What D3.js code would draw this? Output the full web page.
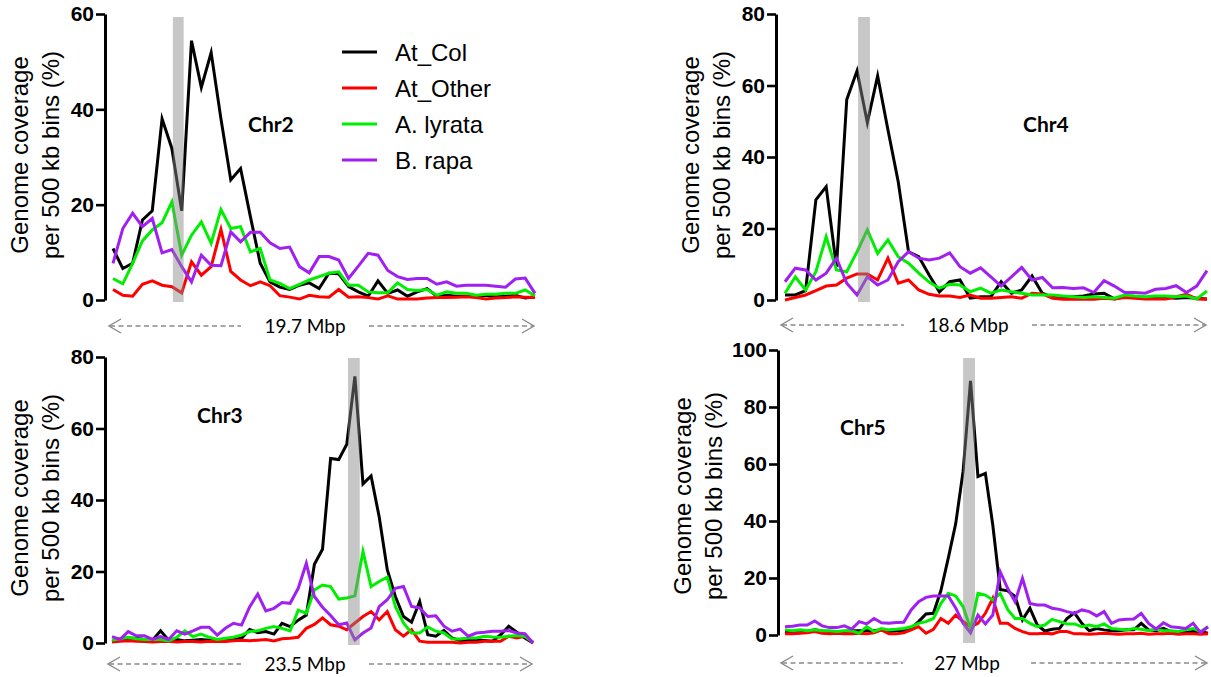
<!DOCTYPE html>
<html>
<head>
<meta charset="utf-8">
<script src="https://cdn.jsdelivr.net/npm/d3@7"></script>
<style>
  html, body { margin: 0; padding: 0; background: #fff; }
  svg { display: block; }
</style>
</head>
<body>
<svg id="chart" width="1211" height="677"></svg>
<script>
// ---- Series and labels ----
const seriesNames = ["At_Col", "At_Other", "A. lyrata", "B. rapa"];
const chrNames = ["Chr2", "Chr4", "Chr3", "Chr5"];
const chrLengths = ["19.7 Mbp", "18.6 Mbp", "23.5 Mbp", "27 Mbp"];

// y-axis ticks per chromosome
const chr2Ticks = [0, 20, 40, 60];
const chr4Ticks = [0, 20, 40, 60, 80];
const chr3Ticks = [0, 20, 40, 60, 80];
const chr5Ticks = [0, 20, 40, 60, 80, 100];

// centromere span, in 500 kb bin units
const chr2Centromere = [6.1, 7.2];
const chr4Centromere = [7.1, 8.25];
const chr3Centromere = [29.15, 30.6];
const chr5Centromere = [24.0, 25.6];

// Genome coverage (%) per 500 kb bin
const chr2AtCol = [10.8, 6.6, 7.7, 16.8, 18.7, 38, 31.8, 18.7, 54.4, 44.6, 51.9, 38, 25.2, 27.6, 17.5, 7.7, 3.8, 2.7, 2.2, 3.1, 3.6, 2.4, 5.6, 5.5, 2.8, 1.7, 0.8, 4, 1.4, 2.1, 0.8, 1.7, 2.4, 0.8, 1, 0.8, 0.8, 0.7, 1, 0.7, 0.8, 1, 0.4, 0.7];
const chr2AtOther = [2.2, 1, 0.8, 3.3, 4, 3.1, 2.8, 1.5, 8, 5.2, 7, 14.8, 6, 4.2, 3, 3.8, 3, 0.9, 0.6, 0.2, 1, 0.7, 0.6, 2.2, 0.6, 0.7, 0.5, 0.2, 0.9, 0.2, 0.2, 0.2, 0.4, 0.5, 0.5, 0.6, 0.7, 0.5, 0.2, 0.4, 0.5, 0.7, 0.6, 0.5];
const chr2Lyrata = [4.5, 3.4, 7.7, 12.4, 14.7, 16.2, 20.6, 9.4, 13.6, 16.4, 11.9, 19, 15, 15.4, 10.1, 10.8, 4.2, 3.5, 2.4, 3.3, 4.2, 4.9, 5.6, 5.9, 3.1, 3.1, 1.7, 1.5, 1.5, 3.6, 2.2, 2, 2.2, 1, 1.7, 1.4, 1.4, 1, 1.2, 1.2, 1.4, 1.4, 2.1, 0.9];
const chr2Rapa = [7.7, 15, 18.2, 15.4, 17.1, 9.9, 10.6, 7, 3.8, 9.4, 7.3, 7.2, 14.3, 12.2, 14.2, 14.2, 12, 10.8, 11.1, 7, 5.7, 9.1, 9.1, 8.4, 4.5, 7.1, 9.8, 9.4, 6.2, 4.9, 4.3, 4.5, 4.5, 3.3, 3.8, 2.9, 3.1, 3.1, 3.1, 2.9, 2.7, 4.4, 4.6, 1.4];

const chr4AtCol = [1.4, 1.4, 2.6, 28, 31.7, 9.3, 56.1, 64.1, 49.6, 62.7, 47.6, 33.1, 13.5, 12.1, 7, 2.3, 5.1, 5.6, 0.5, 0.9, 0.9, 5.1, 1.9, 2.8, 6.7, 1.9, 0.7, 0.7, 0.9, 1.1, 1.7, 1.9, 0.3, 0.9, 0.7, 0.5, 0.7, 0.7, 0.5, 0.7, 0.5, 0.3];
const chr4AtOther = [0, 0.7, 1.4, 2.6, 3.9, 4.2, 6.1, 7.3, 7.3, 5.6, 11.7, 4.7, 5.6, 2.8, 1.6, 1.1, 1.1, 0.7, 1.4, 0.5, 0.5, 0.7, 0.9, 0.5, 1.9, 1.7, 0.5, 0.2, 0.2, 0.2, 0.2, 0.5, 0.3, 0.7, 0.5, 0.3, 0.3, 0.3, 0.9, 1.6, 0.3, 0.2];
const chr4Lyrata = [1.9, 6.5, 2.8, 7.9, 17.7, 8.4, 7.9, 13.5, 19.6, 13, 16.8, 12.1, 10.3, 7.5, 5, 3.3, 4.4, 4.2, 2.3, 3.3, 1.9, 2.8, 2.3, 1.9, 1.4, 1.4, 1.4, 1.1, 0.9, 0.7, 0.9, 0.7, 0.5, 1.4, 1.1, 0.9, 1.1, 1.1, 0.9, 1.1, 0.3, 2.5];
const chr4Rapa = [5.1, 8.9, 8.4, 5.6, 7.5, 11.7, 4.7, 1.4, 6.5, 4.2, 5.6, 10.7, 13.5, 11.7, 11.2, 11.7, 13.2, 9.3, 7.5, 9, 6.5, 3.9, 6.5, 9.1, 5.6, 6.3, 3.4, 3.5, 3.2, 3.4, 2.1, 5.4, 3.9, 2.1, 2.1, 1.9, 3, 3.2, 4, 2.1, 3.9, 8.2];

const chr3AtCol = [0.4, 0.8, 1.3, 1.3, 1, 0.8, 3.4, 0.8, 1, 0.6, 0.8, 1, 0.8, 0.8, 0.6, 1, 1.3, 3.8, 2.9, 3.2, 2.5, 5.5, 4.6, 6.4, 7.8, 22, 26.2, 51.6, 51.3, 55.6, 74.6, 44.5, 46.7, 35.3, 20.5, 13, 7.4, 5.8, 11.6, 2.3, 1.9, 3.5, 1.4, 0.7, 0.7, 0.9, 0.7, 0.5, 2.3, 4.7, 3, 1.4, 0];
const chr3AtOther = [0.3, 0.5, 0.6, 0.5, 0.4, 0.3, 0.4, 0.5, 0.3, 0.4, 0.4, 0.3, 0.5, 0.4, 0.4, 0.6, 0.8, 0.6, 0.8, 1, 0.6, 1.2, 1.3, 1.6, 4.1, 5.2, 7, 5.1, 4.7, 3.7, 5.6, 7.4, 8.8, 6.5, 8.8, 3.7, 1.9, 3.7, 0.5, 0.2, 0.2, 0.2, 0.2, 0, 0.2, 0.2, 0.5, 0.5, 0.5, 1.9, 1.4, 1.9, 0.2];
const chr3Lyrata = [0.8, 1.2, 1.6, 1.2, 1, 1, 1, 0.6, 1.6, 3.4, 1.8, 2.5, 1.6, 1, 1.3, 1.6, 2.2, 3.2, 3.4, 4.1, 4.6, 4.1, 3.4, 9.2, 8.3, 14.8, 16.2, 15.8, 12.3, 12.6, 13.2, 25.6, 15.8, 17.2, 18.4, 10.2, 5.6, 2.8, 2.8, 4.5, 3.3, 2.8, 1.1, 1.1, 1.4, 1.4, 1.9, 1.7, 1.6, 1.9, 2.1, 1.9, 0.2];
const chr3Rapa = [1.8, 1, 3.2, 2, 2, 1, 1.8, 1, 3.4, 2.5, 3.4, 4.4, 4.4, 2.2, 4.1, 5.5, 5, 10.1, 13.7, 9, 9.7, 11.3, 11.1, 15.3, 22.3, 13, 10, 7.7, 5.1, 5.6, 0.9, 2.8, 4.2, 10.2, 12.1, 15.3, 15.8, 10.2, 9.8, 7.4, 7.6, 4.7, 3.3, 3.9, 1.9, 2.8, 3, 3.3, 3.3, 3.5, 2.8, 2.6, 0];

const chr5AtCol = [1.2, 0.8, 0.8, 1.2, 1.8, 1.4, 1.2, 1.2, 1.2, 1.5, 1.5, 1.5, 1.5, 1.8, 1.2, 1.5, 1.5, 2.3, 4.7, 7.4, 7.6, 15.5, 27, 39, 57.5, 89.2, 55.6, 56.7, 38.6, 16, 15.5, 13.5, 5.3, 9.4, 3.5, 1.4, 2, 2.3, 5.8, 7.8, 4.1, 1.5, 2.3, 1.8, 1.5, 1.5, 1.8, 1.8, 4.1, 1.8, 1.5, 2.3, 1.2, 1.2, 0.9, 1.2, 1.2, 0.6];
const chr5AtOther = [0.4, 0.4, 0.6, 0.8, 1.2, 0.6, 0.4, 0.6, 0.4, 0.4, 0.6, 0.4, 0.8, 1.8, 0.4, 0.4, 0.8, 1.8, 2.9, 0.6, 2, 5.8, 4.1, 7, 4.7, 2.9, 4.1, 7.6, 12.9, 4.1, 4.1, 2.3, 1.2, 0.4, 0.4, 0.6, 0.4, 1.2, 1.2, 0.4, 0.4, 0.3, 0.4, 0.6, 0.4, 0.3, 0.4, 0.4, 0.6, 0.3, 0.4, 0.4, 0.6, 0.3, 0.4, 0.4, 0.3, 0.4];
const chr5Lyrata = [1.8, 1.5, 1.8, 1.5, 1.8, 1.5, 1.5, 1.2, 1.5, 1.5, 0.6, 2.9, 1.2, 2.3, 1.8, 2, 2.3, 2.9, 4.1, 4.7, 5.8, 11, 14.6, 13.7, 9.9, 2.3, 14.6, 14, 12.3, 14.6, 9, 5.8, 5.8, 4.1, 2.9, 3.5, 5.5, 4.7, 3.9, 3.9, 2.9, 3.5, 2.9, 3.9, 2.3, 2, 1.8, 2.3, 2, 1.5, 2, 1.5, 1.5, 1.2, 1.8, 2.3, 1.2, 2.9];
const chr5Rapa = [2.9, 3.1, 3.5, 3.5, 4.9, 3.2, 2.6, 2.6, 3.2, 2.1, 4.7, 3.9, 5.8, 4.3, 4.1, 4.4, 4.5, 8.8, 11.7, 13.2, 13.7, 13.7, 13.7, 9.5, 4.1, 0.8, 7, 3.9, 7, 22.2, 16.4, 11.7, 19.9, 11.1, 10.5, 10.5, 9.4, 9, 8.2, 7.6, 8.8, 8.2, 6.7, 8.2, 4.1, 5.3, 5.5, 5.6, 7.6, 4.1, 2.1, 4.3, 2.9, 2.6, 2.3, 4.1, 0.8, 2.9];

// ---- Styling ----
const seriesColors = ["#000000", "#ff0000", "#00ee00", "#a020f0"];
const axisFont = "'Liberation Sans', Arial, sans-serif";
const labelFont = "Lato, 'Open Sans', sans-serif";

// Panel layout: plotting frame, axis position, text placement
const panels = [
  { name: chrNames[0], span: chrLengths[0], ticks: chr2Ticks, cen: chr2Centromere,
    series: [chr2AtCol, chr2AtOther, chr2Lyrata, chr2Rapa],
    x0: 113, x1: 535, yTop: 14, yBot: 300, axisX: 105, bandPad: [3, 2],
    titleX: 28, titleY: 155, labelX: 248, labelY: 132, spanX: 305, spanY: 326 },
  { name: chrNames[1], span: chrLengths[1], ticks: chr4Ticks, cen: chr4Centromere,
    series: [chr4AtCol, chr4AtOther, chr4Lyrata, chr4Rapa],
    x0: 785, x1: 1207, yTop: 14, yBot: 300, axisX: 776, bandPad: [3, 2],
    titleX: 699, titleY: 155, labelX: 1023, labelY: 132, spanX: 968, spanY: 325 },
  { name: chrNames[2], span: chrLengths[2], ticks: chr3Ticks, cen: chr3Centromere,
    series: [chr3AtCol, chr3AtOther, chr3Lyrata, chr3Rapa],
    x0: 112, x1: 533, yTop: 357, yBot: 643, axisX: 105, bandPad: [1, 2],
    titleX: 28, titleY: 498, labelX: 197, labelY: 423, spanX: 305, spanY: 664 },
  { name: chrNames[3], span: chrLengths[3], ticks: chr5Ticks, cen: chr5Centromere,
    series: [chr5AtCol, chr5AtOther, chr5Lyrata, chr5Rapa],
    x0: 785, x1: 1208, yTop: 350, yBot: 635, axisX: 778, bandPad: [8, 8],
    titleX: 691, titleY: 496, labelX: 840, labelY: 435, spanX: 967, spanY: 663 }
];

const svg = d3.select("#chart");

panels.forEach((p, pi) => {
  const n = p.series[0].length;
  const x = d3.scaleLinear().domain([0, n - 1]).range([p.x0, p.x1]);
  const y = d3.scaleLinear().domain([0, d3.max(p.ticks)]).range([p.yBot, p.yTop]);
  const g = svg.append("g").attr("class", "panel");

  // coverage lines
  const line = d3.line().x((d, i) => x(i)).y(d => y(d));
  p.series.forEach((values, si) => {
    g.append("path")
      .datum(values)
      .attr("d", line)
      .attr("fill", "none")
      .attr("stroke", seriesColors[si])
      .attr("stroke-width", 3)
      .attr("stroke-linejoin", "miter")
      .attr("stroke-miterlimit", 6);
  });

  // centromere band, translucent over the lines
  g.append("rect")
    .attr("x", x(p.cen[0]))
    .attr("width", x(p.cen[1]) - x(p.cen[0]))
    .attr("y", p.yTop + p.bandPad[0])
    .attr("height", (p.yBot + p.bandPad[1]) - (p.yTop + p.bandPad[0]))
    .attr("fill", "#898989")
    .attr("fill-opacity", 0.47);

  // y axis
  const axis = d3.axisLeft(y).tickValues(p.ticks).tickSize(9).tickSizeOuter(0).tickPadding(2);
  const ag = g.append("g").attr("transform", `translate(${p.axisX},0)`).call(axis);
  ag.select(".domain").attr("stroke", "#000").attr("stroke-width", 3);
  ag.selectAll(".tick line").attr("stroke", "#000").attr("stroke-width", 2.6);
  ag.selectAll(".tick text")
    .attr("fill", "#000")
    .style("font-family", axisFont)
    .style("font-weight", "bold")
    .style("font-size", "21px");

  // y axis title (two lines)
  [["Genome coverage", 0], ["per 500 kb bins (%)", 31]].forEach(([txt, dx]) => {
    g.append("text")
      .attr("transform", `translate(${p.titleX + dx},${p.titleY}) rotate(-90)`)
      .attr("text-anchor", "middle")
      .style("font-family", axisFont)
      .style("font-size", "24px")
      .attr("fill", "#000")
      .text(txt);
  });

  // chromosome label
  g.append("text")
    .attr("x", p.labelX).attr("y", p.labelY)
    .style("font-family", labelFont)
    .style("font-weight", "bold")
    .style("font-size", "21px")
    .attr("fill", "#000")
    .text(p.name);

  // chromosome length with dashed arrows
  const ay = p.spanY;
  const leftTip = p.x0 - 4, rightTip = p.x1 - 1;
  const gap = 64;
  g.append("text")
    .attr("x", p.spanX).attr("y", ay + 7)
    .attr("text-anchor", "middle")
    .style("font-family", labelFont)
    .style("font-size", "19px")
    .attr("fill", "#000")
    .text(p.span);
  const arrowStyle = sel => sel.attr("stroke", "#8a8a8a").attr("stroke-width", 1.4).attr("fill", "none");
  g.append("line").attr("x1", leftTip + 1).attr("x2", p.spanX - gap).attr("y1", ay).attr("y2", ay)
    .call(arrowStyle).attr("stroke-dasharray", "5,3.5");
  g.append("line").attr("x1", p.spanX + gap).attr("x2", rightTip - 1).attr("y1", ay).attr("y2", ay)
    .call(arrowStyle).attr("stroke-dasharray", "5,3.5");
  g.append("path").attr("d", `M${leftTip + 12},${ay - 7}L${leftTip},${ay}L${leftTip + 12},${ay + 7}`).call(arrowStyle);
  g.append("path").attr("d", `M${rightTip - 12},${ay - 7}L${rightTip},${ay}L${rightTip - 12},${ay + 7}`).call(arrowStyle);

  // legend in the first panel
  if (pi === 0) {
    const lg = g.append("g");
    seriesNames.forEach((name, si) => {
      const ly = 52 + si * 36;
      lg.append("line")
        .attr("x1", 342).attr("x2", 377).attr("y1", ly).attr("y2", ly)
        .attr("stroke", seriesColors[si]).attr("stroke-width", 3);
      lg.append("text")
        .attr("x", 395).attr("y", ly + 8.5)
        .style("font-family", axisFont)
        .style("font-size", "24px")
        .attr("fill", "#000")
        .text(name);
    });
  }
});
</script>
</body>
</html>
